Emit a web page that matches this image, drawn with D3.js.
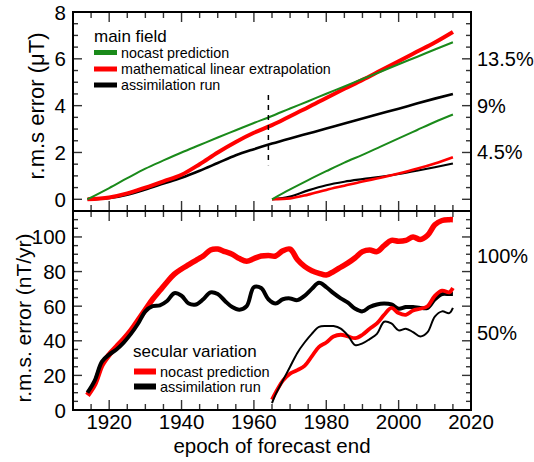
<!DOCTYPE html>
<html><head><meta charset="utf-8">
<script src="https://cdn.jsdelivr.net/npm/d3@7"></script>
<style>
html,body{margin:0;padding:0;background:#fff;}
svg{display:block;font-family:"Liberation Sans",Arial,Helvetica,sans-serif;}
</style></head>
<body><svg id="chart" width="534" height="462"></svg>
<script>
// ---- data: main field (top panel), uT ----
const mfYearsA = [1914,1920,1925,1930,1935,1940,1945,1950,1955,1960,1965,1970,1975,1980,1985,1990,1995,2000,2005,2010,2015];
const mfNocastA = [0,0.48,0.9,1.31,1.66,2.0,2.32,2.64,2.95,3.26,3.56,3.88,4.19,4.51,4.82,5.14,5.45,5.77,6.08,6.4,6.71];
const mfLinearA = [0,0.08,0.25,0.5,0.77,1.05,1.5,2.0,2.45,2.84,3.17,3.55,3.93,4.33,4.72,5.1,5.5,5.9,6.3,6.7,7.15];
const mfAssimA  = [0,0.06,0.2,0.42,0.67,0.92,1.22,1.55,1.88,2.14,2.38,2.6,2.81,3.02,3.24,3.45,3.66,3.87,4.09,4.3,4.5];
const mfYearsB = [1965,1970,1975,1980,1985,1990,1995,2000,2005,2010,2015];
const mfNocastB = [0,0.42,0.82,1.2,1.57,1.9,2.25,2.6,2.95,3.3,3.62];
const mfLinearB = [0,0.04,0.2,0.4,0.58,0.76,0.92,1.1,1.3,1.53,1.8];
const mfAssimB  = [0,0.12,0.38,0.6,0.75,0.86,0.96,1.08,1.22,1.37,1.53];
// ---- data: secular variation (bottom panel), nT/yr ----
const svYearsA = [1914,1916,1918,1920,1922,1924,1926,1928,1930,1932,1934,1936,1938,1940,1942,1944,1946,1948,1950,1952,1954,1956,1958,1960,1962,1964,1966,1968,1970,1972,1974,1976,1978,1980,1982,1984,1986,1988,1990,1992,1994,1996,1998,2000,2002,2004,2006,2008,2010,2012,2014,2015];
const svNocastA = [8.5,15,26,32,36.5,41,46,52,58,64,69,74,78.5,81.5,84,86.5,89,92.5,93,91.5,90,87.5,86,87.5,89,89.3,89,92,93,87,83,80.5,79,78,80,82.5,85,88,91.5,92.5,91.5,95,98,97.5,98,100,98.5,101,107,109.5,110,110];
const svAssimA  = [10,17,28,32,35,39,44,50,57,60,60.5,63,67.5,66,61.5,61,64,68,67,63,59.5,58,60,71,70.5,64,61.5,64,64.5,63.5,66,70,73.5,71,67.5,64.5,62,58.5,57,59.5,61,61.5,61,58.5,59.5,59.5,59,59,64,67,67,67];
const svYearsB = [1965,1966,1968,1970,1972,1974,1976,1978,1980,1982,1984,1986,1988,1990,1992,1994,1996,1998,2000,2002,2004,2006,2008,2010,2012,2014,2015];
const svNocastB = [6,10,17,21,23,25.5,31,36.5,39,42.5,43.5,42.5,41.5,43.5,47,50,55,59,56,55,57.5,58.5,60,66,69,68,70.5];
const svAssimB  = [4,9,17,25,33,39,44,48,48.5,48.5,47,43,37.5,38.5,41,44,51,50,46,47,45,42.5,45,54,57,56,59];
// ---- axis / labels ----
const xTickLabels = [1920,1940,1960,1980,2000,2020];
const mfTickLabels = [0,2,4,6,8];
const svTickLabels = [0,20,40,60,80,100];
const mfPctLabels = [{v:2,t:"4.5%"},{v:4,t:"9%"},{v:6,t:"13.5%"}];
const svPctLabels = [{v:44.5,t:"50%"},{v:89,t:"100%"}];
const forecastSplit = 1964;

const GREEN = "#1a8a1a", RED = "#ff0000", BLACK = "#000000";
const svg = d3.select("#chart");
const L = 73, R = 471, T = 12, M = 211, B = 410;
const x = d3.scaleLinear().domain([1910,2020]).range([L,R]);
const yTop = d3.scaleLinear().domain([-0.5,8]).range([M,T]);
const yBot = d3.scaleLinear().domain([0,115]).range([B,M]);

function drawLine(ys, vals, yS, color, w, curve){
  const pts = ys.map((yr,i)=>[yr, vals[i]]);
  const line = d3.line().x(d=>x(d[0])).y(d=>yS(d[1])).curve(curve||d3.curveCatmullRom.alpha(0.5));
  svg.append("path").attr("d", line(pts)).attr("fill","none").attr("stroke",color)
    .attr("stroke-width",w).attr("stroke-linejoin","round").attr("stroke-linecap","butt");
}

// top panel curves
drawLine(mfYearsA, mfAssimA, yTop, BLACK, 2.6, d3.curveMonotoneX);
drawLine(mfYearsA, mfLinearA, yTop, RED, 4, d3.curveMonotoneX);
drawLine(mfYearsA, mfNocastA, yTop, GREEN, 2, d3.curveMonotoneX);
drawLine(mfYearsB, mfAssimB, yTop, BLACK, 2.2, d3.curveMonotoneX);
drawLine(mfYearsB, mfLinearB, yTop, RED, 2.6, d3.curveMonotoneX);
drawLine(mfYearsB, mfNocastB, yTop, GREEN, 2, d3.curveMonotoneX);
// dashed split line
svg.append("line").attr("x1",x(forecastSplit)).attr("x2",x(forecastSplit))
  .attr("y1",yTop(4.45)).attr("y2",yTop(1.45)).attr("stroke","#000").attr("stroke-width",1.5)
  .attr("stroke-dasharray","5,5");

// bottom panel curves
drawLine(svYearsA, svNocastA, yBot, RED, 5.5);
drawLine(svYearsA, svAssimA, yBot, BLACK, 4);
drawLine(svYearsB, svNocastB, yBot, RED, 3.8);
drawLine(svYearsB, svAssimB, yBot, BLACK, 2);

// ticks
const tickG = svg.append("g").attr("stroke","#333").attr("stroke-width",1.4);
const xMinor = d3.range(1910,2021,5);
xMinor.forEach(v=>{
  const major = xTickLabels.includes(v);
  const len = major ? 10 : 6;
  const xx = x(v);
  [[T,1],[M,-1],[M,1],[B,-1]].forEach(([y0,dir])=>{
    tickG.append("line").attr("x1",xx).attr("x2",xx).attr("y1",y0).attr("y2",y0+dir*len);
  });
});
d3.range(0,8,0.5).forEach(v=>{
  const major = mfTickLabels.includes(v);
  const len = major ? 9 : 5;
  const yy = yTop(v);
  tickG.append("line").attr("x1",L).attr("x2",L+len).attr("y1",yy).attr("y2",yy);
  tickG.append("line").attr("x1",R).attr("x2",R-len).attr("y1",yy).attr("y2",yy);
});
d3.range(5,115,5).forEach(v=>{
  const major = svTickLabels.includes(v);
  const len = major ? 9 : 5;
  const yy = yBot(v);
  tickG.append("line").attr("x1",L).attr("x2",L+len).attr("y1",yy).attr("y2",yy);
  tickG.append("line").attr("x1",R).attr("x2",R-len).attr("y1",yy).attr("y2",yy);
});

// frames
svg.append("rect").attr("x",L).attr("y",T).attr("width",R-L).attr("height",M-T)
  .attr("fill","none").attr("stroke","#000").attr("stroke-width",2);
svg.append("rect").attr("x",L).attr("y",M).attr("width",R-L).attr("height",B-M)
  .attr("fill","none").attr("stroke","#000").attr("stroke-width",2);

// tick labels
const tl = svg.append("g").attr("font-size",20.5).attr("fill","#000");
mfTickLabels.forEach(v=>{
  tl.append("text").attr("x",L-7).attr("y",yTop(v)+7.5).attr("text-anchor","end").text(v);
});
svTickLabels.forEach(v=>{
  tl.append("text").attr("x",L-7).attr("y",yBot(v)+7.5).attr("text-anchor","end").text(v);
});
xTickLabels.forEach(v=>{
  tl.append("text").attr("x",x(v)).attr("y",429).attr("text-anchor","middle").text(v);
});
const pl = svg.append("g").attr("font-size",20).attr("fill","#000");
mfPctLabels.forEach(d=>{
  pl.append("text").attr("x",477).attr("y",yTop(d.v)+7).text(d.t);
});
svPctLabels.forEach(d=>{
  pl.append("text").attr("x",477).attr("y",yBot(d.v)+7).text(d.t);
});

// axis titles
svg.append("text").attr("x",272).attr("y",453).attr("text-anchor","middle")
  .attr("font-size",20.5).text("epoch of forecast end");
svg.append("text").attr("transform","translate(44,106) rotate(-90)").attr("text-anchor","middle")
  .attr("font-size",22).text("r.m.s error (\u03bcT)");
svg.append("text").attr("transform","translate(31,318) rotate(-90)").attr("text-anchor","middle")
  .attr("font-size",21).text("r.m.s. error (nT/yr)");

// legends
function legend(title, tx, ty, items, sx0, sx1, textX, fs, sw){
  svg.append("text").attr("x",tx).attr("y",ty).attr("font-size",17).text(title);
  items.forEach(it=>{
    svg.append("line").attr("x1",sx0).attr("x2",sx1).attr("y1",it.y).attr("y2",it.y)
      .attr("stroke",it.c).attr("stroke-width",sw);
    svg.append("text").attr("x",textX).attr("y",it.y+5).attr("font-size",fs).text(it.t);
  });
}
legend("main field", 94, 41.5, [
  {t:"nocast prediction", c:GREEN, y:52.5},
  {t:"mathematical linear extrapolation", c:RED, y:69},
  {t:"assimilation run", c:BLACK, y:85}
], 94, 117, 121, 14.3, 5);
legend("secular variation", 133, 357, [
  {t:"nocast prediction", c:RED, y:371.5},
  {t:"assimilation run", c:BLACK, y:386.5}
], 134, 156, 160, 14.5, 6);
</script></body></html>
